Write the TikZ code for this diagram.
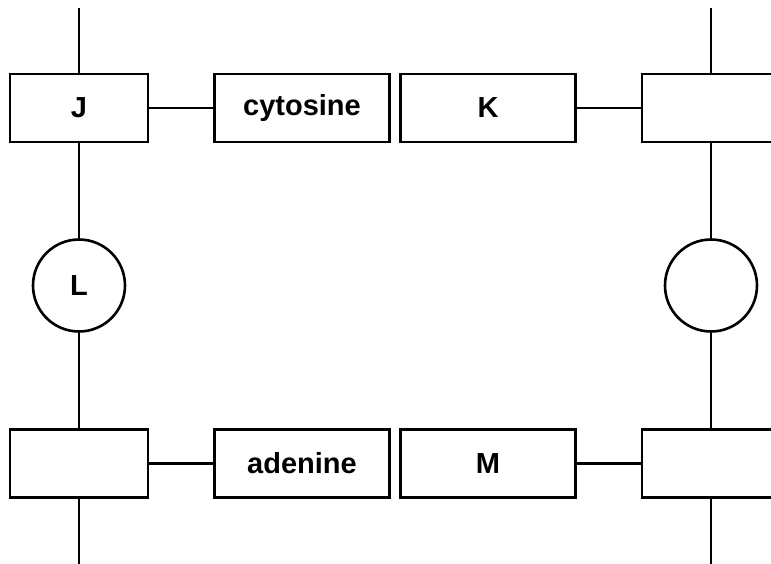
\documentclass[tikz,border=0pt]{standalone}
\usepackage{fontspec}
\setmainfont{Liberation Sans}
\begin{document}
\begin{tikzpicture}[x=1pt,y=-1pt,line width=2.6pt]
  \tikzset{every node/.style={draw=black, line width=2.6pt, inner sep=0pt,
      font=\fontsize{29}{31}\selectfont\bfseries},
    phos/.style={rectangle, minimum width=138pt, minimum height=68pt},
    base/.style={rectangle, minimum width=175pt, minimum height=68pt},
    sugar/.style={circle, minimum size=92pt}}
  \path[use as bounding box] (0,0) rectangle (771,564);

  % left strand
  \node[phos] (J) at (79,108) {J};
  \node[sugar] (L) at (79,285.5) {L};
  \node[phos] (lowL) at (79,463.5) {};
  \coordinate (topL) at (79,8);
  \coordinate (endL) at (79,564);
  \draw (topL) -- (J) -- (L) -- (lowL) -- (endL);

  % right strand
  \node[phos] (upR) at (711,108) {};
  \node[sugar] (sugR) at (711,285.5) {};
  \node[phos] (lowR) at (711,463.5) {};
  \coordinate (topR) at (711,8);
  \coordinate (endR) at (711,564);
  \draw (topR) -- (upR) -- (sugR) -- (lowR) -- (endR);

  % bases
  \node[base] (cyt) at (302,108) {cytosine};
  \node[base] (K) at (488,108) {K};
  \node[base] (ade) at (302,463.5) {adenine};
  \node[base] (M) at (488,463.5) {M};
  \draw (J) -- (cyt);
  \draw (K) -- (upR);
  \draw (lowL) -- (ade);
  \draw (M) -- (lowR);
\end{tikzpicture}
\end{document}
